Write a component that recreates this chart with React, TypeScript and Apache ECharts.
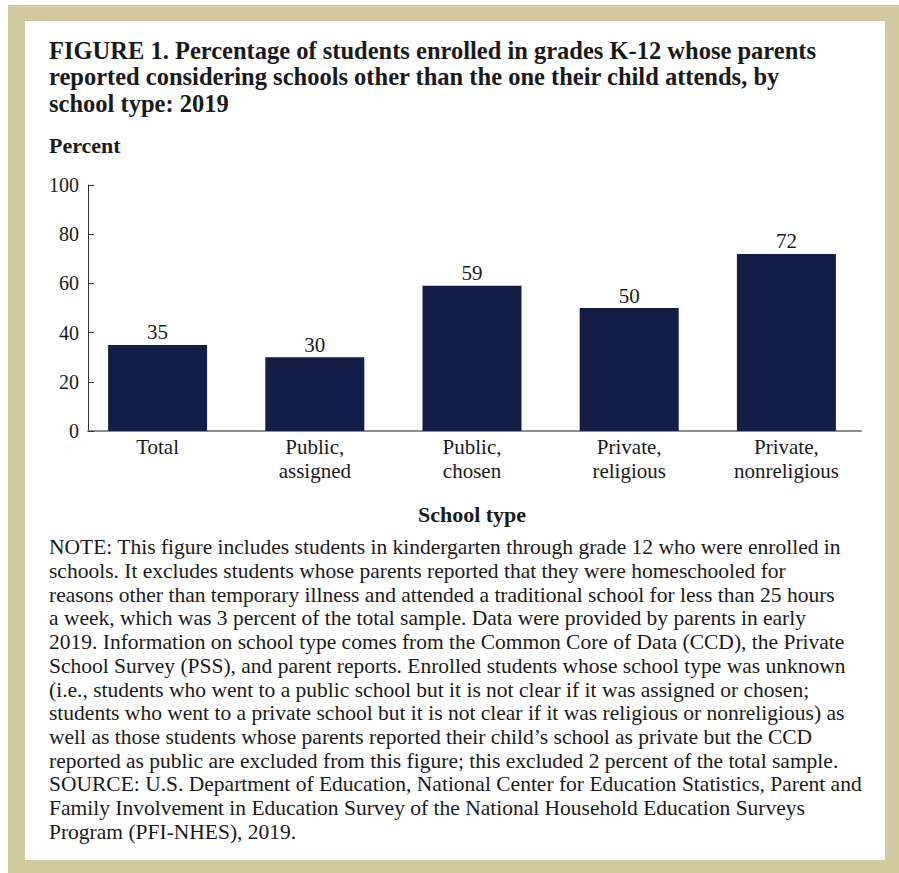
import React, { useEffect, useRef } from "react";
import * as echarts from "echarts";

const categories = [
  "Total",
  "Public,\nassigned",
  "Public,\nchosen",
  "Private,\nreligious",
  "Private,\nnonreligious",
];
const values = [35, 30, 59, 50, 72];
const yMin = 0;
const yMax = 100;
const yInterval = 20;

const titleLines = [
  "FIGURE 1. Percentage of students enrolled in grades K-12 whose parents",
  "reported considering schools other than the one their child attends, by",
  "school type: 2019",
];
const yAxisTitle = "Percent";
const xAxisTitle = "School type";
const noteLines = [
  "NOTE: This figure includes students in kindergarten through grade 12 who were enrolled in",
  "schools. It excludes students whose parents reported that they were homeschooled for",
  "reasons other than temporary illness and attended a traditional school for less than 25 hours",
  "a week, which was 3 percent of the total sample. Data were provided by parents in early",
  "2019. Information on school type comes from the Common Core of Data (CCD), the Private",
  "School Survey (PSS), and parent reports. Enrolled students whose school type was unknown",
  "(i.e., students who went to a public school but it is not clear if it was assigned or chosen;",
  "students who went to a private school but it is not clear if it was religious or nonreligious) as",
  "well as those students whose parents reported their child\u2019s school as private but the CCD",
  "reported as public are excluded from this figure; this excluded 2 percent of the total sample.",
  "SOURCE: U.S. Department of Education, National Center for Education Statistics, Parent and",
  "Family Involvement in Education Survey of the National Household Education Surveys",
  "Program (PFI-NHES), 2019.",
];

const FONT = "'Liberation Serif', 'Times New Roman', serif";
const TEXT = "#1a1a1a";
const BAR = "#131e46";
const FRAME = "#d3c9a0";

export default function App() {
  const ref = useRef<HTMLDivElement>(null);

  useEffect(() => {
    if (!ref.current) return;
    const chart = echarts.init(ref.current, undefined, { renderer: "svg" });
    const gridTop = 185;
    const gridHeight = 246;
    chart.setOption({
      animation: false,
      backgroundColor: "#ffffff",
      textStyle: { fontFamily: FONT, color: TEXT },
      grid: [
        { left: 88, width: 773, top: gridTop, height: gridHeight },
        { left: 79, width: 786, top: gridTop, height: gridHeight },
      ],
      xAxis: [
        {
          gridIndex: 0,
          type: "value",
          min: 0,
          max: 1,
          axisLine: { show: true, lineStyle: { color: "#8c8c8c", width: 2 } },
          axisTick: { show: false },
          axisLabel: { show: false },
          splitLine: { show: false },
        },
        {
          gridIndex: 1,
          type: "category",
          data: categories,
          axisLine: { show: false },
          axisTick: { show: false },
          axisLabel: {
            fontFamily: FONT,
            fontSize: 21,
            lineHeight: 24,
            color: TEXT,
            margin: 4,
          },
          name: xAxisTitle,
          nameLocation: "middle",
          nameGap: 72,
          nameTextStyle: {
            fontFamily: FONT,
            fontSize: 22,
            fontWeight: "bold",
            color: TEXT,
          },
        },
      ],
      yAxis: [
        {
          gridIndex: 0,
          type: "value",
          min: yMin,
          max: yMax,
          interval: yInterval,
          axisLine: { show: true, lineStyle: { color: "#333333", width: 1 } },
          axisTick: {
            show: true,
            inside: true,
            length: 6,
            lineStyle: { color: "#333333", width: 1 },
          },
          axisLabel: {
            fontFamily: FONT,
            fontSize: 20,
            color: TEXT,
            margin: 9,
          },
          splitLine: { show: false },
        },
        {
          gridIndex: 1,
          type: "value",
          min: yMin,
          max: yMax,
          show: false,
        },
      ],
      series: [
        {
          type: "bar",
          xAxisIndex: 1,
          yAxisIndex: 1,
          data: values,
          barWidth: 99,
          itemStyle: { color: BAR },
          label: {
            show: true,
            position: "top",
            distance: 2,
            fontFamily: FONT,
            fontSize: 21,
            color: TEXT,
          },
        },
      ],
      graphic: [
        {
          type: "rect",
          z: -20,
          silent: true,
          shape: { x: 8, y: 5, width: 891, height: 868 },
          style: { fill: FRAME },
        },
        {
          type: "rect",
          z: -19,
          silent: true,
          shape: { x: 25, y: 21, width: 860, height: 839 },
          style: { fill: "#ffffff" },
        },
        {
          type: "text",
          z: 10,
          x: 49,
          y: 37,
          style: {
            text: titleLines.join("\n"),
            font: `bold 24.5px ${FONT}`,
            lineHeight: 26.5,
            fill: TEXT,
            verticalAlign: "top",
          },
        },
        {
          type: "text",
          z: 10,
          x: 49,
          y: 134,
          style: {
            text: yAxisTitle,
            font: `bold 22px ${FONT}`,
            lineHeight: 22,
            fill: TEXT,
            verticalAlign: "top",
          },
        },
        {
          type: "text",
          z: 10,
          x: 49,
          y: 535.5,
          style: {
            text: noteLines.join("\n"),
            font: `21.5px ${FONT}`,
            lineHeight: 23.7,
            fill: TEXT,
            verticalAlign: "top",
          },
        },
      ],
    });
    return () => chart.dispose();
  }, []);

  return (
    <div
      ref={ref}
      style={{ position: "absolute", left: 0, top: 0, width: 899, height: 873 }}
    />
  );
}
